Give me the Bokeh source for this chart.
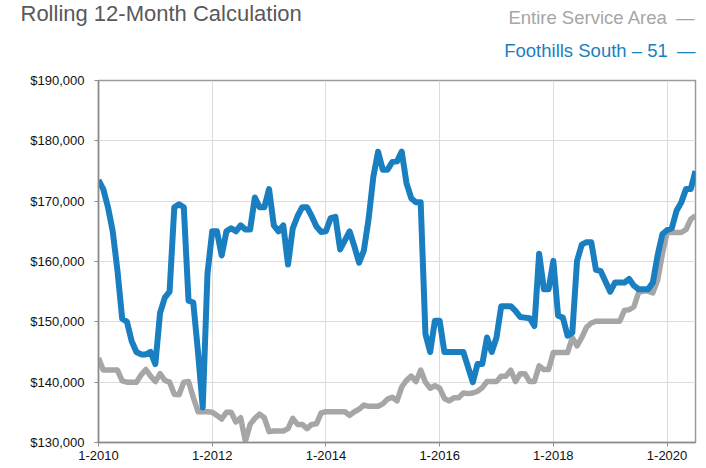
from bokeh.plotting import figure
from bokeh.models import Range1d, FixedTicker, NumeralTickFormatter, Title
from bokeh.embed import file_html
from bokeh.resources import INLINE

# ---- data ----
tick_months = [0, 24, 48, 72, 96, 120]
tick_labels = ["1-2010", "1-2012", "1-2014", "1-2016", "1-2018", "1-2020"]

foothills_south = [
    173500, 172000, 169000, 165000, 158500, 150500, 150000, 146800, 145000, 144600,
    144600, 145000, 143000, 151500, 154000, 155000, 169000, 169500, 169000, 153500,
    153200, 145000, 135800, 158000, 165000, 165000, 161000, 165000, 165500, 165000,
    166000, 165300, 165300, 170600, 169000, 169000, 172000, 166000, 165000, 166000,
    159500, 165500, 167500, 169000, 169000, 167500, 165800, 164900, 165000, 167200,
    167400, 162000, 163500, 165000, 162500, 159800, 161800, 167000, 174000, 178200,
    175200, 175200, 176500, 176600, 178200, 173000, 170500, 169800, 169800, 148000,
    145000, 150200, 150200, 145000, 145000, 145000, 145000, 145000, 142500, 140000,
    143000, 143000, 147400, 145000, 147400, 152600, 152600, 152600, 151800, 150800,
    150700, 150600, 149300, 161300, 155400, 155400, 160100, 151000, 150700, 147700,
    148200, 160100, 162800, 163200, 163200, 158600, 158400, 156700, 155000, 156500,
    156500, 156500, 157100, 156000, 155400, 155400, 155400, 156500, 161000, 164500,
    165200, 165500, 168400, 169800, 172000, 172000, 175000,
]

entire_area = [
    144000, 142000, 142000, 142000, 142000, 140200, 140000, 140000, 140000, 141200,
    142100, 141000, 140100, 141400, 140300, 140000, 138000, 137900, 140000, 140100,
    137500, 135100, 135100, 135100, 135000, 134500, 133900, 135000, 135000, 133400,
    134100, 130200, 133000, 134000, 134700, 134100, 131800, 131900, 131900, 131900,
    132300, 134000, 133000, 133000, 132300, 133000, 133100, 134900, 135100, 135100,
    135100, 135100, 135100, 134500, 135100, 135500, 136200, 136000, 136000, 136000,
    136400, 137200, 137500, 136900, 139200, 140300, 141000, 140100, 142000, 140000,
    139000, 139400, 139000, 137300, 136900, 137400, 137400, 138200, 138100, 138200,
    138500, 139100, 140100, 140100, 140100, 141000, 141000, 142000, 140100, 141400,
    141400, 140100, 140100, 142700, 142100, 142100, 144900, 144900, 144900, 144900,
    147400, 146000, 147400, 149100, 149800, 150100, 150100, 150100, 150100, 150100,
    150100, 151900, 152000, 152500, 154900, 155100, 155100, 154800, 156900, 161200,
    164800, 164800, 164800, 164800, 165300, 167000, 167600,
]

months = list(range(len(foothills_south)))

title_text = "Rolling 12-Month Calculation"
series_names = ["Entire Service Area", "Foothills South \u2013 51"]

BLUE = "#1a7fc1"
GRAY = "#a6a6a6"
FONT = "Liberation Sans"
DASH = "\u2002\u2014"

W, H = 704, 466
FL, FT, FR, FB = 98, 80, 695, 442   # frame edges in page px

p = figure(width=W, height=H, output_backend="svg", toolbar_location=None,
           title=title_text,
           x_range=Range1d(0, 126), y_range=Range1d(130000, 190000),
           min_border_left=FL, min_border_right=W - FR, min_border_top=FT,
           min_border_bottom=H - FB)

# main title (outermost panel)
p.title.align = "left"
p.title.vertical_align = "bottom"
p.title.standoff = -16
p.title.offset = -78
p.title.text_color = "#595959"
p.title.text_font = FONT
p.title.text_font_size = "22px"
p.title.text_font_style = "normal"

# legend line 2 (closest to the frame)
p.add_layout(Title(text=series_names[1] + DASH, align="right", vertical_align="bottom",
                   standoff=40, text_color=BLUE, text_font=FONT,
                   text_font_size="18.5px", text_font_style="normal"), "above")
# legend line 1 (zero-height panel, text centred on its edge)
p.add_layout(Title(text=series_names[0] + DASH, align="right", vertical_align="middle",
                   standoff=-23, text_color=GRAY, text_font=FONT,
                   text_font_size="18.5px", text_font_style="normal"), "above")

p.background_fill_color = "white"
p.border_fill_color = "white"
p.outline_line_color = "#9a9a9a"
p.outline_line_width = 1.5

p.line(months, entire_area, line_color=GRAY, line_width=5.5, line_join="round")
p.line(months, foothills_south, line_color=BLUE, line_width=6, line_join="round")

# axes
p.xaxis.ticker = FixedTicker(ticks=tick_months)
p.xaxis.major_label_overrides = {m: l for m, l in zip(tick_months, tick_labels)}
p.yaxis.ticker = FixedTicker(ticks=list(range(130000, 190001, 10000)))
p.yaxis.formatter = NumeralTickFormatter(format="$0,0")
for ax in (p.xaxis, p.yaxis):
    ax.axis_line_color = "#8c8c8c"
    ax.axis_line_width = 1.5
    ax.major_tick_line_color = "#8c8c8c"
    ax.major_tick_in = 0
    ax.major_tick_out = 4
    ax.minor_tick_line_color = None
    ax.major_label_text_font = FONT
    ax.major_label_text_font_size = "13px"
    ax.major_label_text_color = "#111111"
p.yaxis.major_label_standoff = 10
p.xaxis.major_label_standoff = 4

p.xgrid.ticker = FixedTicker(ticks=tick_months)
p.grid.grid_line_color = "#dcdcdc"
p.grid.grid_line_width = 1

open("out.html", "w").write(file_html(p, INLINE))
